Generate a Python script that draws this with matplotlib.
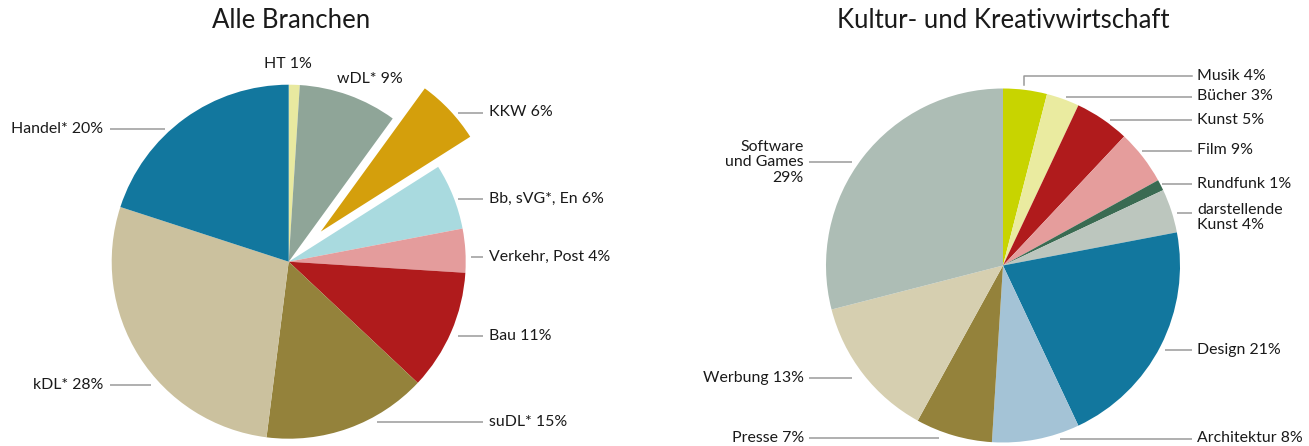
import numpy as np
import matplotlib.pyplot as plt

plt.rcParams['font.family'] = ['Lato', 'DejaVu Sans']

H = 446  # picture height in px, used to flip y

# left pie: Alle Branchen
all_names = ['HT', 'wDL*', 'KKW', 'Bb, sVG*, En', 'Verkehr, Post', 'Bau', 'suDL*', 'kDL*', 'Handel*']
all_values = [1, 9, 6, 6, 4, 11, 15, 28, 20]
all_colors = ['#e8e9a0', '#8fa598', '#d49f0c', '#a9dadf', '#e49c9c',
              '#b01b1c', '#94823b', '#cbc19e', '#12779e']

# right pie: Kultur- und Kreativwirtschaft
kkw_names = ['Musik', 'Bücher', 'Kunst', 'Film', 'Rundfunk', 'darstellende\nKunst',
             'Design', 'Architektur', 'Presse', 'Werbung', 'Software\nund Games\n']
kkw_values = [4, 3, 5, 5, 1, 4, 21, 8, 7, 13, 29]   # slice sizes
kkw_labels = [4, 3, 5, 9, 1, 4, 21, 8, 7, 13, 29]   # percentages as printed
kkw_colors = ['#c8d400', '#eaeba0', '#b01b1c', '#e59d9c', '#3a6b52', '#bcc6be',
              '#12779e', '#a4c3d6', '#94823b', '#d6cfb0', '#adbdb5']

fig = plt.figure(figsize=(13.09, 4.46), dpi=100)
ax = fig.add_axes([0, 0, 1, 1])

R = 177
ax.pie(all_values, colors=all_colors, startangle=90, counterclock=False,
       center=(288.7, H - 261.7), radius=R,
       explode=[0, 0, 44, 0, 0, 0, 0, 0, 0],
       wedgeprops=dict(linewidth=0))
ax.pie(kkw_values, colors=kkw_colors, startangle=90, counterclock=False,
       center=(1003, H - 265.5), radius=R,
       wedgeprops=dict(linewidth=0))

TXT = '#1a1a1a'
LINE = '#9a9a9a'
FS = 11.4


def label(x, y, s, ha='left', va='center'):
    ax.text(x, H - y, s, ha=ha, va=va, fontsize=FS, color=TXT, linespacing=1.12)


def lead(x0, x1, y):
    ax.plot([x0, x1], [H - y, H - y], color=LINE, lw=1.1, solid_capstyle='butt')


# titles
ax.text(291, H - 21, 'Alle Branchen', ha='center', va='center', fontsize=18.5, color=TXT)
ax.text(1003, H - 21, 'Kultur- und Kreativwirtschaft', ha='center', va='center',
        fontsize=18.5, color=TXT)

# left pie labels
lbl = [f'{n} {v}%' for n, v in zip(all_names, all_values)]
label(288, 64, lbl[0], ha='center')
label(337, 79, lbl[1])
right_rows = [(2, 458, 112.5), (3, 458, 198.5), (4, 471, 257), (5, 458, 336), (6, 377, 422)]
for i, x0, y in right_rows:
    lead(x0, 483, y)
    label(489, y, lbl[i])
lead(110, 165, 129)
label(103, 129, lbl[8], ha='right')
lead(110, 151, 385)
label(103, 385, lbl[7], ha='right')

# right pie labels
klbl = [f'{n} {v}%' for n, v in zip(kkw_names, kkw_labels)]
klbl[-1] = 'Software\nund Games\n29%'
ax.plot([1023.6, 1023.6, 1192], [H - 85, H - 75.5, H - 75.5], color=LINE, lw=1.1)
label(1197, 75.5, klbl[0])
right_k = [(1, 1066, 96.5), (2, 1110, 119.5), (3, 1142, 150.5), (4, 1162, 183.5),
           (6, 1165, 350), (7, 1060, 438.5)]
for i, x0, y in right_k:
    lead(x0, 1192, y)
    label(1197, y, klbl[i])
lead(1177, 1192, 212.5)
ax.text(1197, H - 203, klbl[5], ha='left', va='top', fontsize=FS, color=TXT, linespacing=1.12)
lead(809, 852, 162)
label(804, 162.5, klbl[10], ha='right')
lead(809, 852, 378)
label(804, 378, klbl[9], ha='right')
lead(809, 939, 437.5)
label(804, 437.5, klbl[8], ha='right')

ax.set_xlim(0, 1309)
ax.set_ylim(0, H)
ax.set_aspect('auto')
ax.axis('off')

fig.savefig('out.png', dpi=100, facecolor='white')
